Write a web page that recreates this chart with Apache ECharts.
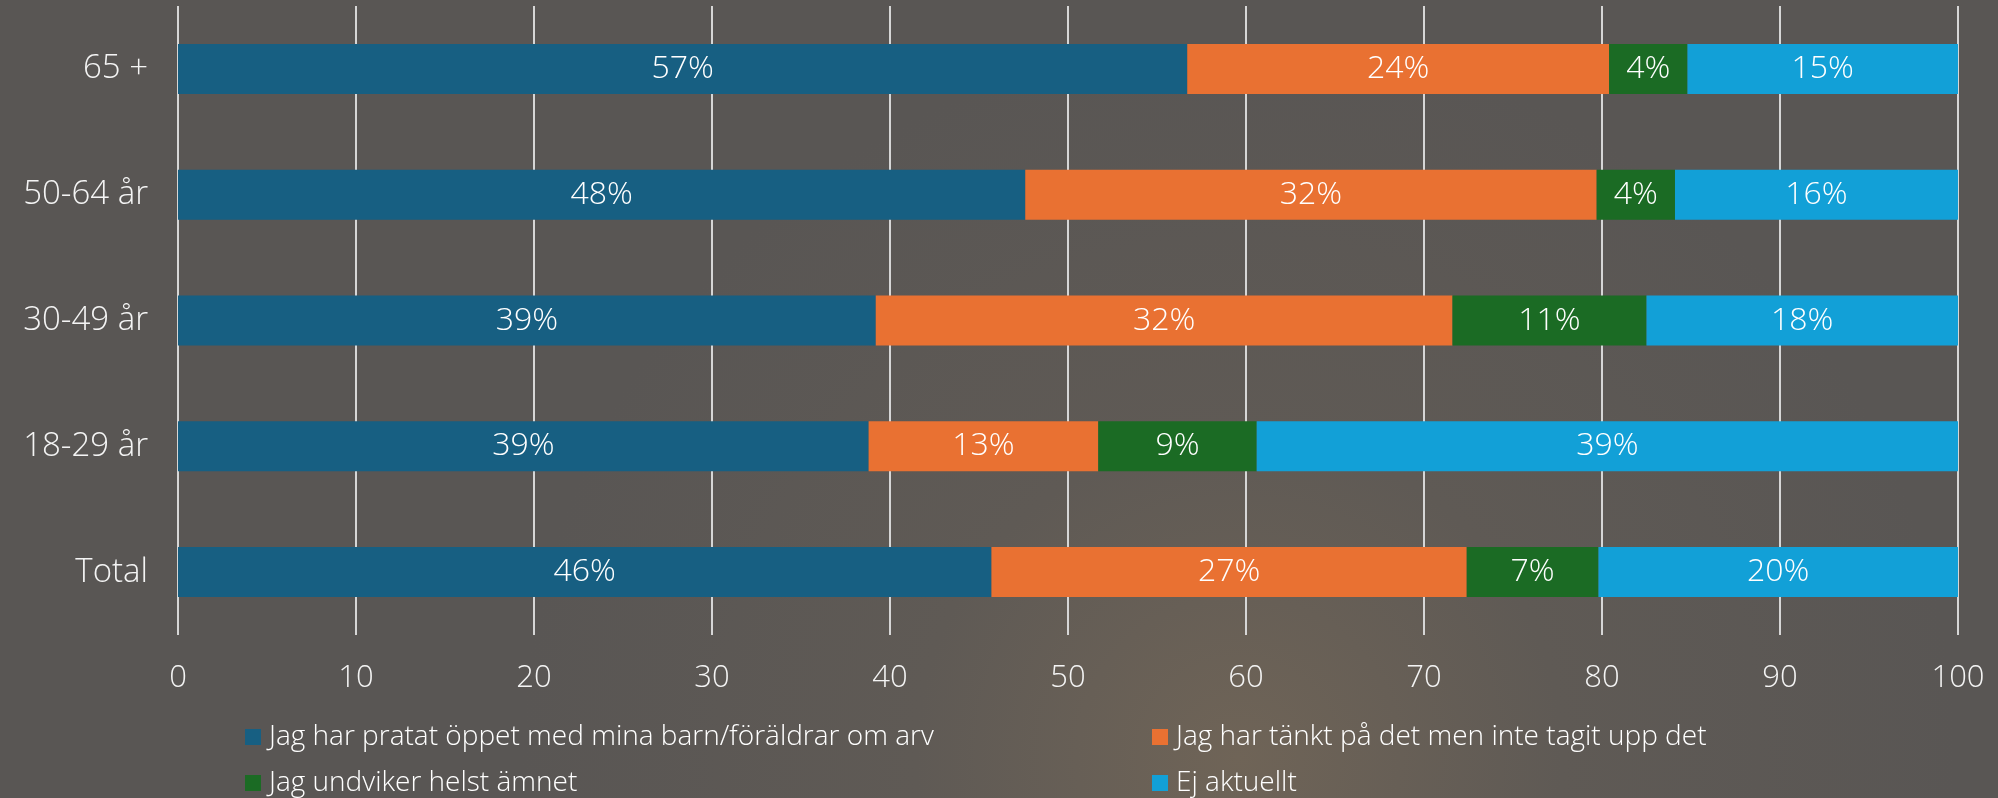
<!DOCTYPE html>
<html>
<head>
<meta charset="utf-8">
<script src="https://cdn.jsdelivr.net/npm/echarts@6/dist/echarts.min.js"></script>
<style>
  html, body { margin: 0; padding: 0; background: #5b5855; }
  #chart { width: 1998px; height: 798px; }
</style>
</head>
<body>
<div id="chart"></div>
<script>
// categories, top to bottom
const groups = ['65 +', '50-64 år', '30-49 år', '18-29 år', 'Total'];

const seriesNames = [
  'Jag har pratat öppet med mina barn/föräldrar om arv',
  'Jag har tänkt på det men inte tagit upp det',
  'Jag undviker helst ämnet',
  'Ej aktuellt'
];

// shares in percent, same order as groups
const pratat = [56.7, 47.6, 39.2, 38.8, 45.7];
const tankt = [23.7, 32.1, 32.4, 12.9, 26.7];
const undviker = [4.4, 4.4, 10.9, 8.9, 7.4];
const ejAktuellt = [15.2, 15.9, 17.5, 39.4, 20.2];

const xTicks = [0, 10, 20, 30, 40, 50, 60, 70, 80, 90, 100];

const colors = ['#175f82', '#e97132', '#1b6b24', '#12a0d7'];
const font = "'Open Sans', 'Noto Sans', sans-serif";

const chart = echarts.init(document.getElementById('chart'));

const values = [pratat, tankt, undviker, ejAktuellt];

// one legend per item so the two columns line up
const legendPos = [
  { left: 245, top: 723 },
  { left: 1152, top: 723 },
  { left: 245, top: 769 },
  { left: 1152, top: 769 }
];

chart.setOption({
  animation: false,
  backgroundColor: {
    type: 'radial', x: 0.62, y: 0.95, r: 0.9,
    colorStops: [
      { offset: 0, color: '#6f6457' },
      { offset: 0.45, color: '#5f5a55' },
      { offset: 1, color: '#595654' }
    ]
  },
  textStyle: { fontFamily: font },
  color: colors,
  grid: { left: 178, right: 40, top: 6, height: 629, containLabel: false },
  legend: legendPos.map((p, i) => ({
    left: p.left,
    top: p.top,
    data: [seriesNames[i]],
    icon: 'rect',
    itemWidth: 16,
    itemHeight: 16,
    itemGap: 0,
    padding: 0,
    selectedMode: false,
    textStyle: { color: '#ffffff', fontSize: 28, fontWeight: 300, fontFamily: font, padding: [0, 0, 0, 3] }
  })),
  xAxis: {
    type: 'value',
    min: 0,
    max: 100,
    interval: 10,
    axisLine: { show: false },
    axisTick: { show: false },
    splitLine: { show: true, lineStyle: { color: '#d6d6d6', width: 2 } },
    axisLabel: {
      color: '#f4f4f4',
      fontSize: 31,
      fontWeight: 300,
      margin: 28,
      formatter: v => xTicks.includes(v) ? String(v) : ''
    }
  },
  yAxis: {
    type: 'category',
    inverse: true,
    data: groups,
    axisLine: { show: false },
    axisTick: { show: false },
    axisLabel: { color: '#f4f4f4', fontSize: 33, fontWeight: 300, margin: 30 }
  },
  series: seriesNames.map((name, i) => ({
    name,
    type: 'bar',
    stack: 'total',
    barWidth: 50,
    data: values[i],
    label: {
      show: true,
      position: 'inside',
      color: '#ffffff',
      fontSize: 32,
      fontWeight: 300,
      fontFamily: font,
      formatter: p => Math.round(p.value) + '%'
    }
  }))
});
</script>
</body>
</html>
